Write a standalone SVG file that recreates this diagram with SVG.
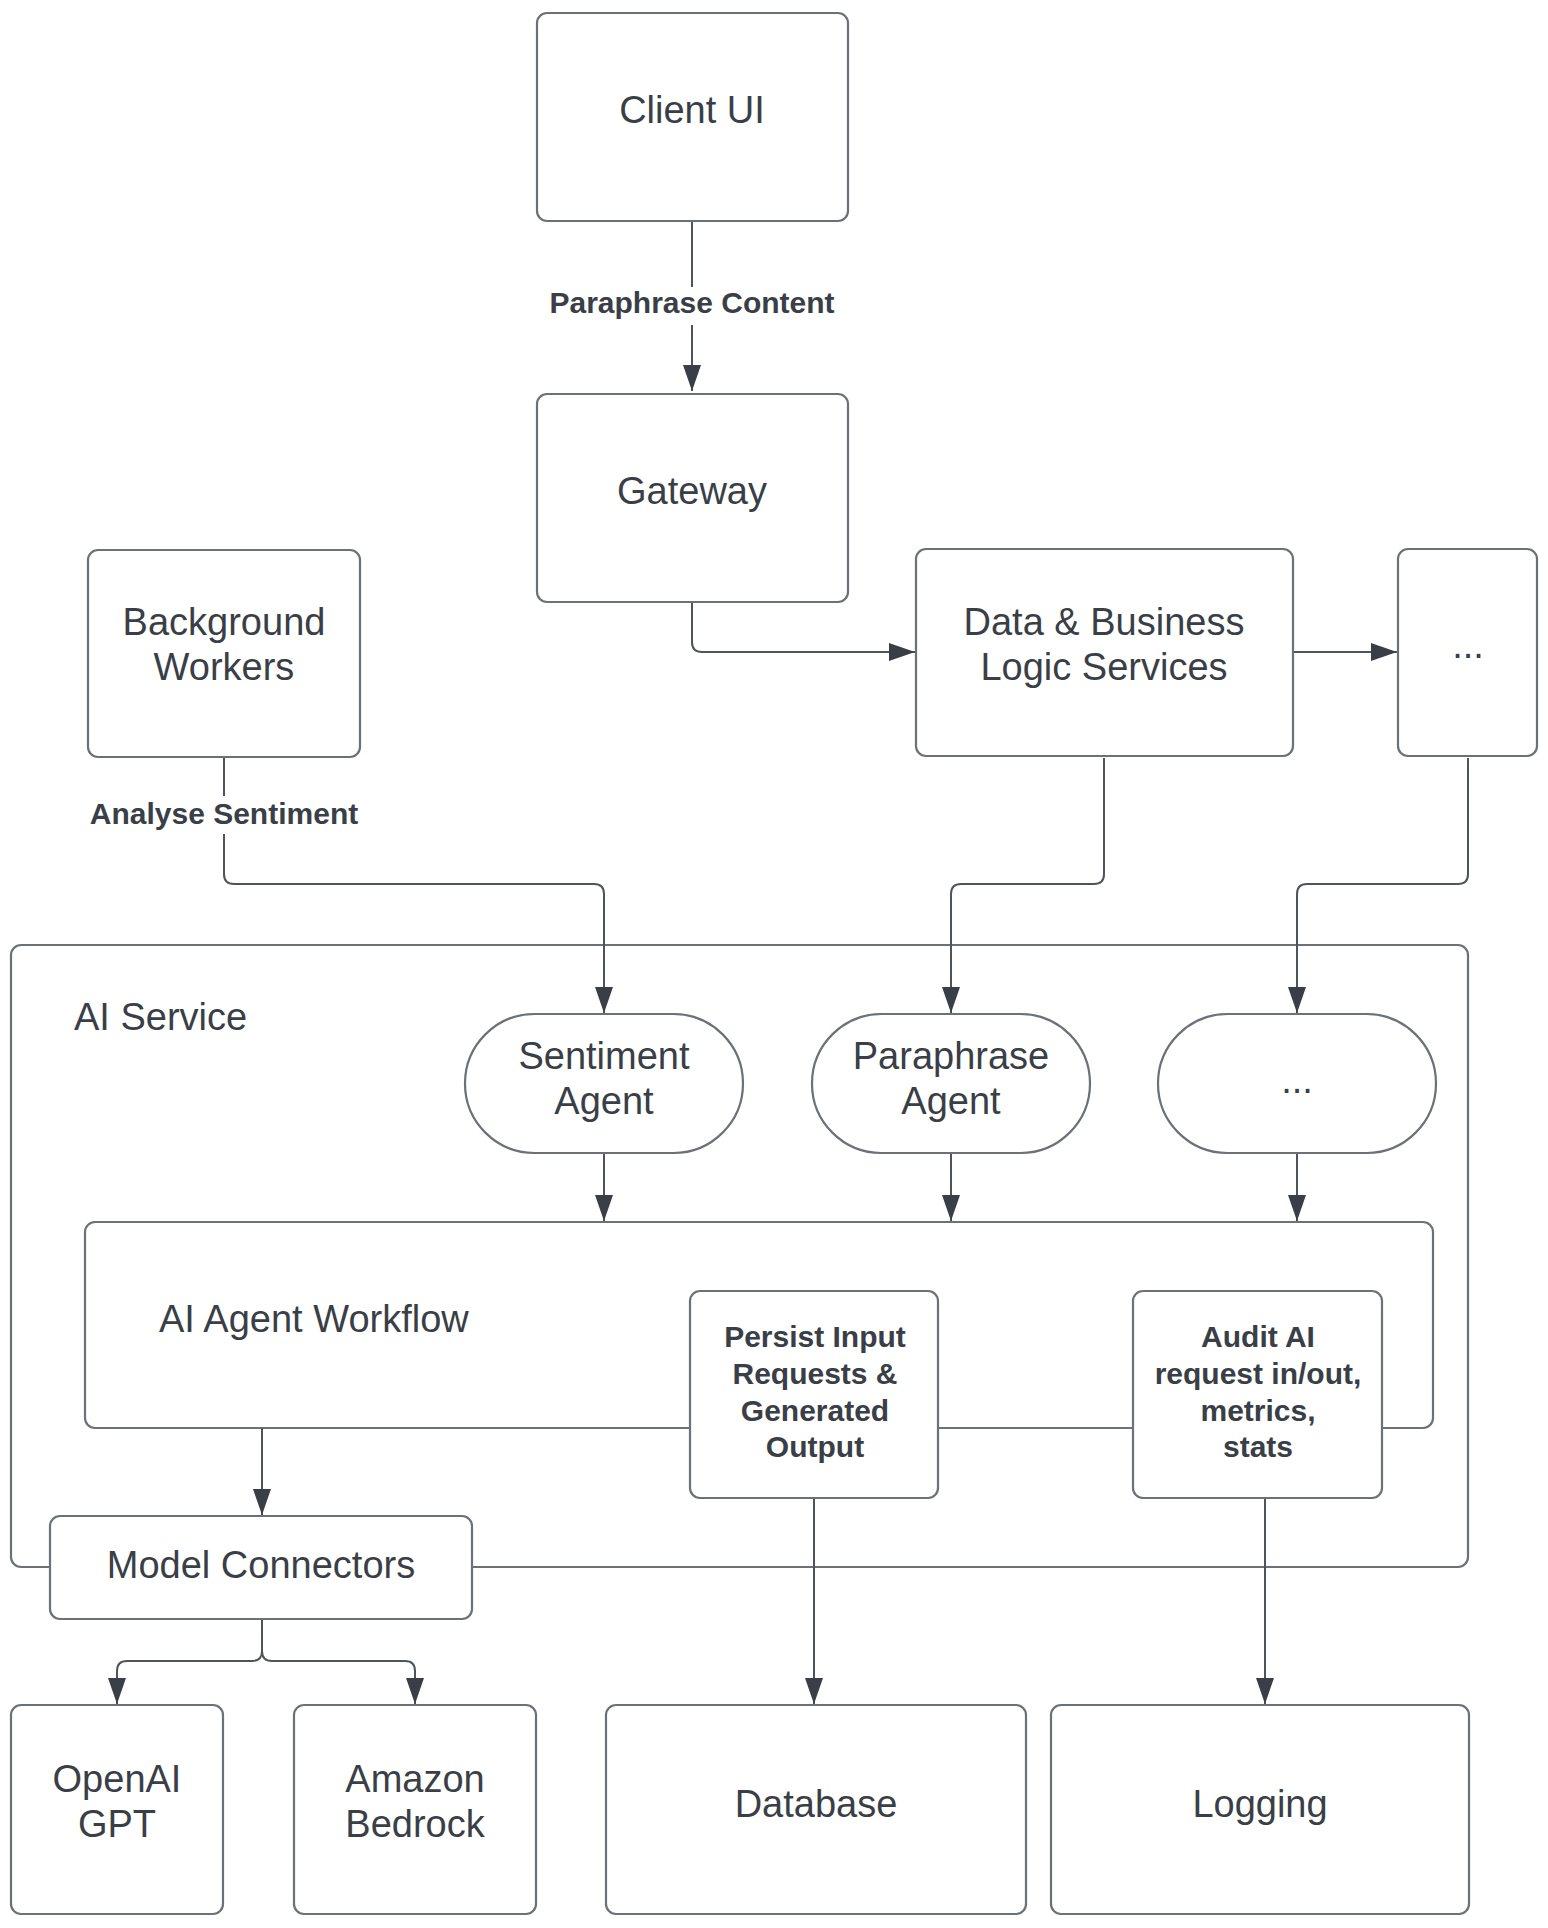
<svg xmlns="http://www.w3.org/2000/svg" width="1548" height="1928" viewBox="0 0 1548 1928">
  <defs>
    <marker id="ah" markerUnits="userSpaceOnUse" markerWidth="28" markerHeight="20" viewBox="0 0 28 20" refX="27" refY="10" orient="auto">
      <path d="M1,1 L27,10 L1,19 Z" fill="#3a3f47"/>
    </marker>
  </defs>
  <style>
    .box { fill: #ffffff; stroke: #6c7179; stroke-width: 2.2; }
    .cont { fill: none; stroke: #6c7179; stroke-width: 2.2; }
    .t { font-family: "Liberation Sans", Arial, sans-serif; font-size: 38px; fill: #3a3f47; text-anchor: middle; dominant-baseline: central; }
    .tl { font-family: "Liberation Sans", Arial, sans-serif; font-size: 38px; fill: #3a3f47; }
    .b { font-family: "Liberation Sans", Arial, sans-serif; font-size: 30px; font-weight: bold; fill: #3a3f47; text-anchor: middle; dominant-baseline: central; }
    .c { fill: none; stroke: #4f545c; stroke-width: 2; }
  </style>
  <rect width="1548" height="1928" fill="#ffffff"/>

  <g id="ai-service">
    <rect class="cont" x="11" y="945" width="1457" height="622" rx="10"/>
    <text class="tl" x="74" y="1030">AI Service</text>
  </g>
  <g id="ai-agent-workflow">
    <rect class="cont" x="85" y="1222" width="1348" height="206" rx="10"/>
    <text class="tl" x="159" y="1332">AI Agent Workflow</text>
  </g>

  <g id="connectors">
    <path class="c" d="M692 221 V391" marker-end="url(#ah)"/>
    <path class="c" d="M692 602 V642 Q692 652 702 652 H915" marker-end="url(#ah)"/>
    <path class="c" d="M1293 652 H1397" marker-end="url(#ah)"/>
    <path class="c" d="M224 758 V874 Q224 884 234 884 H594 Q604 884 604 894 V1013" marker-end="url(#ah)"/>
    <path class="c" d="M1104 758 V874 Q1104 884 1094 884 H961 Q951 884 951 894 V1013" marker-end="url(#ah)"/>
    <path class="c" d="M1468 758 V874 Q1468 884 1458 884 H1307 Q1297 884 1297 894 V1013" marker-end="url(#ah)"/>
    <path class="c" d="M604 1153 V1221" marker-end="url(#ah)"/>
    <path class="c" d="M951 1153 V1221" marker-end="url(#ah)"/>
    <path class="c" d="M1297 1153 V1221" marker-end="url(#ah)"/>
    <path class="c" d="M262 1428 V1515" marker-end="url(#ah)"/>
    <path class="c" d="M262 1619 V1651 Q262 1661 252 1661 H127 Q117 1661 117 1671 V1704" marker-end="url(#ah)"/>
    <path class="c" d="M262 1651 Q262 1661 272 1661 H405 Q415 1661 415 1671 V1704" marker-end="url(#ah)"/>
    <path class="c" d="M814 1498 V1704" marker-end="url(#ah)"/>
    <path class="c" d="M1265 1498 V1704" marker-end="url(#ah)"/>
    <rect x="540" y="287" width="304" height="38" fill="#ffffff"/>
    <text class="b" x="692" y="302">Paraphrase Content</text>
    <rect x="84" y="796" width="280" height="38" fill="#ffffff"/>
    <text class="b" x="224" y="813">Analyse Sentiment</text>
  </g>

  <g id="client-ui">
    <rect class="box" x="537" y="13" width="311" height="208" rx="10"/>
    <text class="t" x="692" y="110">Client UI</text>
  </g>
  <g id="gateway">
    <rect class="box" x="537" y="394" width="311" height="208" rx="10"/>
    <text class="t" x="692" y="491">Gateway</text>
  </g>
  <g id="background-workers">
    <rect class="box" x="88" y="550" width="272" height="207" rx="10"/>
    <text class="t" x="224" y="622">Background</text>
    <text class="t" x="224" y="667">Workers</text>
  </g>
  <g id="data-business-logic">
    <rect class="box" x="916" y="549" width="377" height="207" rx="10"/>
    <text class="t" x="1104" y="622">Data &amp; Business</text>
    <text class="t" x="1104" y="667">Logic Services</text>
  </g>
  <g id="more-services">
    <rect class="box" x="1398" y="549" width="139" height="207" rx="10"/>
    <text class="t" x="1468" y="645">...</text>
  </g>
  <g id="sentiment-agent">
    <rect class="box" x="465" y="1014" width="278" height="139" rx="69.5"/>
    <text class="t" x="604" y="1056">Sentiment</text>
    <text class="t" x="604" y="1101">Agent</text>
  </g>
  <g id="paraphrase-agent">
    <rect class="box" x="812" y="1014" width="278" height="139" rx="69.5"/>
    <text class="t" x="951" y="1056">Paraphrase</text>
    <text class="t" x="951" y="1101">Agent</text>
  </g>
  <g id="more-agents">
    <rect class="box" x="1158" y="1014" width="278" height="139" rx="69.5"/>
    <text class="t" x="1297" y="1080">...</text>
  </g>
  <g id="persist">
    <rect class="box" x="690" y="1291" width="248" height="207" rx="10"/>
    <text class="b" x="815" y="1336">Persist Input</text>
    <text class="b" x="815" y="1373">Requests &amp;</text>
    <text class="b" x="815" y="1410">Generated</text>
    <text class="b" x="815" y="1446">Output</text>
  </g>
  <g id="audit">
    <rect class="box" x="1133" y="1291" width="249" height="207" rx="10"/>
    <text class="b" x="1258" y="1336">Audit AI</text>
    <text class="b" x="1258" y="1373">request in/out,</text>
    <text class="b" x="1258" y="1410">metrics,</text>
    <text class="b" x="1258" y="1446">stats</text>
  </g>
  <g id="model-connectors">
    <rect class="box" x="50" y="1516" width="422" height="103" rx="10"/>
    <text class="t" x="261" y="1565">Model Connectors</text>
  </g>
  <g id="openai-gpt">
    <rect class="box" x="11" y="1705" width="212" height="209" rx="10"/>
    <text class="t" x="117" y="1779">OpenAI</text>
    <text class="t" x="117" y="1824">GPT</text>
  </g>
  <g id="amazon-bedrock">
    <rect class="box" x="294" y="1705" width="242" height="209" rx="10"/>
    <text class="t" x="415" y="1779">Amazon</text>
    <text class="t" x="415" y="1824">Bedrock</text>
  </g>
  <g id="database">
    <rect class="box" x="606" y="1705" width="420" height="209" rx="10"/>
    <text class="t" x="816" y="1804">Database</text>
  </g>
  <g id="logging">
    <rect class="box" x="1051" y="1705" width="418" height="209" rx="10"/>
    <text class="t" x="1260" y="1804">Logging</text>
  </g>
</svg>
